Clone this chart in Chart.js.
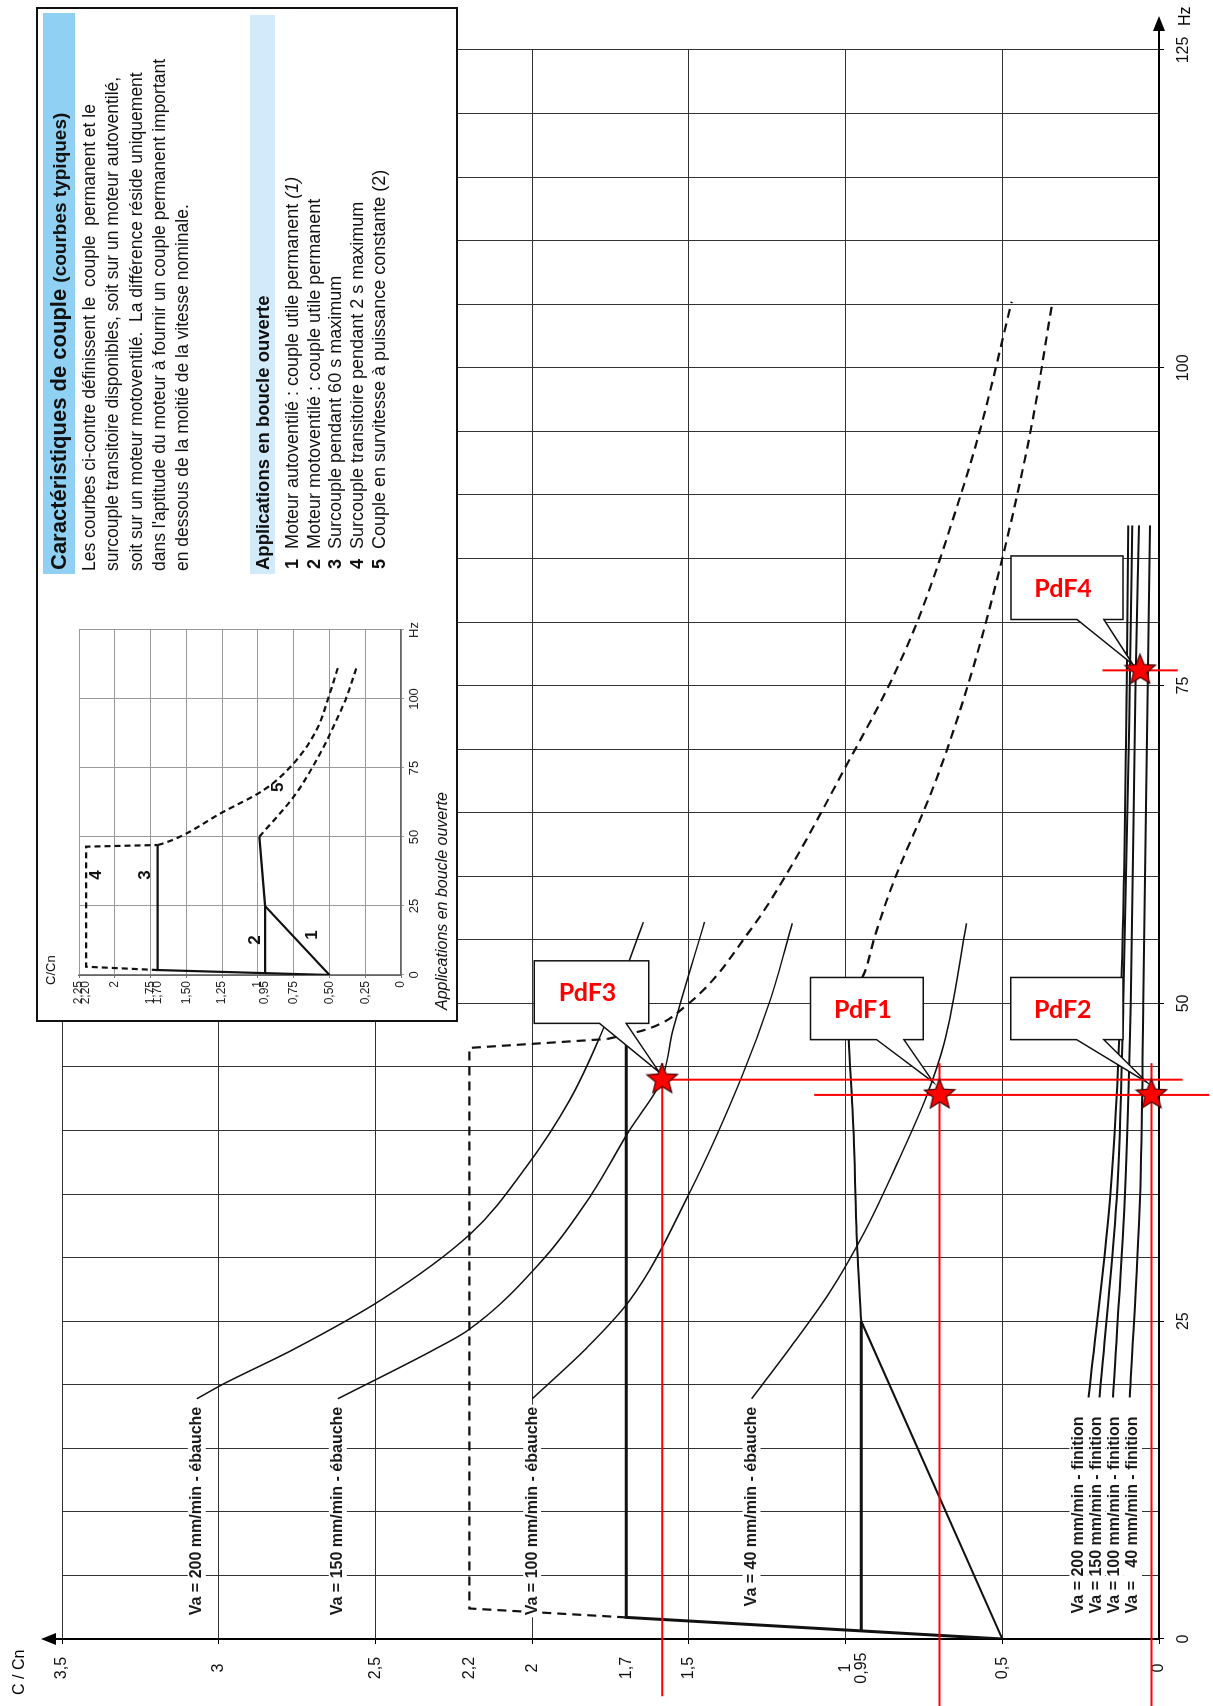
<!DOCTYPE html>
<html lang="fr">
<head>
<meta charset="utf-8">
<title>Caractéristiques de couple</title>
<script src="https://cdn.jsdelivr.net/npm/chart.js@4.4.1/dist/chart.umd.min.js"></script>
<style>
html, body { margin: 0; padding: 0; background: #fff; }
body { width: 1213px; height: 1706px; overflow: hidden; position: relative;
       font-family: "Liberation Sans", Arial, sans-serif; color: #111; }
/* the whole figure is laid out landscape, then turned a quarter left */
#stage { position: absolute; left: 0; top: 0; width: 1706px; height: 1213px;
         transform-origin: 0 0; transform: translateY(1706px) rotate(-90deg); }
#main { position: absolute; left: 0; top: 0; }
#box { position: absolute; left: 684px; top: 36px; width: 1015px; height: 422px;
       box-sizing: border-box; border: 2px solid #111; background: #fff; }
.bar { position: absolute; left: 446px; white-space: pre; font-weight: bold; box-sizing: border-box; padding-left: 4px; }
#title { top: 5px; width: 561px; height: 32px; line-height: 32px; background: #8fd0f3; font-size: 22px; }
#title span { font-size: 19px; }
#intro { position: absolute; left: 449px; top: 40px; font-size: 17.5px; line-height: 23.3px; white-space: pre; }
#sub { top: 212px; width: 559px; height: 25px; line-height: 25px; background: #d2eaf9; font-size: 18.5px; }
#list { position: absolute; left: 451px; top: 244px; font-size: 18px; line-height: 21.7px; white-space: pre; }
#list b { display: inline-block; width: 20px; }
#inset { position: absolute; left: 4px; top: 2px; }
#caption { position: absolute; left: 10px; top: 395px; font-size: 16px; font-style: italic; white-space: nowrap; }
</style>
</head>
<body>
<div id="stage">
  <canvas id="main" width="1706" height="1213"></canvas>
  <div id="box">
    <div id="title" class="bar">Caractéristiques de couple <span>(courbes typiques)</span></div>
    <div id="intro">Les courbes ci-contre définissent le  couple  permanent et le
surcouple transitoire disponibles, soit sur un moteur autoventilé,
soit sur un moteur motoventilé.  La différence réside uniquement
dans l'aptitude du moteur à fournir un couple permanent important
en dessous de la moitié de la vitesse nominale.</div>
    <div id="sub" class="bar">Applications en boucle ouverte</div>
    <div id="list"><b>1</b>Moteur autoventilé : couple utile permanent <i>(1)</i>
<b>2</b>Moteur motoventilé : couple utile permanent
<b>3</b>Surcouple pendant 60 s maximum
<b>4</b>Surcouple transitoire pendant 2 s maximum
<b>5</b>Couple en survitesse à puissance constante (2)</div>
    <canvas id="inset" width="420" height="392"></canvas>
    <div id="caption">Applications en boucle ouverte</div>
  </div>
</div>
<script>
Chart.defaults.font.family = '"Liberation Sans", Arial, sans-serif';
Chart.defaults.color = '#111';

// ---- main graph: frequency (Hz) against C/Cn ----
const hzTicks = [0, 25, 50, 75, 100, 125];
const cTicks = [0, 0.5, 0.95, 1, 1.5, 1.7, 2, 2.2, 2.5, 3, 3.5];

// typical curves 1 to 5
const hzCurve3 = [0, 1.7, 47.5];
const cCurve3 = [0.5, 1.7, 1.7];
const hzCurve2 = [0.64, 25];
const cCurve2 = [0.95, 0.95];
const hzCurve1a = [0, 25];
const cCurve1a = [0.5, 0.95];
const hzCurve1b = [25, 32, 40, 47.2, 50];
const cCurve1b = [0.95, 0.965, 0.975, 0.99, 0.995];
const hzCurve4 = [1.7, 2.4, 46.5, 47.2];
const cCurve4 = [1.7, 2.2, 2.2, 1.76];
const hzCurve5a = [47.2, 48, 49.8, 55.9, 60.1, 68.6, 75.1, 80.1, 90.2, 95.2, 105.2];
const cCurve5a = [1.76, 1.63, 1.51, 1.3, 1.19, 1.0, 0.86, 0.77, 0.63, 0.57, 0.47];
const hzCurve5b = [50, 52.4, 55, 58, 60, 67, 75, 85, 95, 105.2];
const cCurve5b = [0.995, 0.94, 0.91, 0.87, 0.84, 0.72, 0.61, 0.5, 0.41, 0.34];

// roughing (ébauche) feeds
const hzVa200e = [18.9, 20, 22.8, 26.7, 31.8, 37.1, 42.4, 47.6, 56.4];
const cVa200e = [3.07, 2.99, 2.76, 2.48, 2.2, 2.02, 1.88, 1.78, 1.645];
const hzVa150e = [18.9, 22.8, 24.2, 30, 35, 40, 43.8, 48, 56.4];
const cVa150e = [2.62, 2.31, 2.21, 1.96, 1.81, 1.69, 1.59, 1.55, 1.45];
const hzVa100e = [18.9, 22.8, 26.6, 35, 44.3, 50.3, 56.3];
const cVa100e = [2.0, 1.83, 1.69, 1.5, 1.33, 1.24, 1.17];
const hzVa40e = [18.9, 22.8, 27.3, 32, 37.7, 42.8, 46.9, 56.3];
const cVa40e = [1.3, 1.18, 1.05, 0.94, 0.83, 0.74, 0.685, 0.614];
const ebaucheLabels = ['Va = 200 mm/min - ébauche', 'Va = 150 mm/min - ébauche',
                       'Va = 100 mm/min - ébauche', 'Va = 40 mm/min - ébauche'];

// finishing (finition) feeds
const hzFinition = [19, 34.6, 50, 75, 87.6];
const cVa200f = [0.225, 0.156, 0.122, 0.103, 0.098];
const cVa150f = [0.19, 0.135, 0.114, 0.093, 0.085];
const cVa100f = [0.147, 0.109, 0.09, 0.075, 0.064];
const cVa40f = [0.093, 0.061, 0.05, 0.036, 0.029];
const finitionLabels = ['Va = 200 mm/min - finition', 'Va = 150 mm/min - finition',
                        'Va = 100 mm/min - finition', 'Va =   40 mm/min - finition'];
const finitionLabelHz = 17.5;
const finitionLabelC = [0.257, 0.2, 0.141, 0.083];

// operating points and their red construction lines
const pdfNames = ['PdF1', 'PdF2', 'PdF3', 'PdF4'];
const pdfHz = [42.8, 42.8, 44, 76.2];
const pdfC = [0.7, 0.024, 1.585, 0.06];
const redHz = [[45.3, -4.5], [45.3, -5.3], [45.3, -5.3], [44, 44], [42.8, 42.8], [76.2, 76.2]];
const redC = [[1.585, 1.585], [0.7, 0.7], [0.024, 0.024], [1.585, -0.075], [1.1, -0.16], [0.18, -0.06]];

// callout boxes, in graph units (box Hz range, box C range, pointer base C, pointer tip)
const callouts = [
  { name: 'PdF1', hz: [47.15, 52.04], c: [0.752, 1.112], base: [0.814, 0.901], tip: [43.8, 0.72] },
  { name: 'PdF2', hz: [47.15, 52.04], c: [0.115, 0.473], base: [0.176, 0.263], tip: [43.8, 0.039] },
  { name: 'PdF3', hz: [48.43, 53.35], c: [1.628, 1.993], base: [1.70, 1.785], tip: [44.6, 1.595] },
  { name: 'PdF4', hz: [80.2, 85.2], c: [0.115, 0.472], base: [0.176, 0.262], tip: [76.65, 0.083] }
];

// ---- small inset graph ----
const insetTicks = [0, 0.25, 0.5, 0.75, 0.95, 1, 1.25, 1.5, 1.7, 1.75, 2, 2.2, 2.25];
const insetTickLabels = ['0', '0,25', '0,50', '0,75', '0,95', '1', '1,25', '1,50', '1,70', '1,75', '2', '2,20', '2,25'];
const inHz3 = [0, 1.8, 47.1];
const inC3 = [0.5, 1.7, 1.7];
const inHz4 = [1.8, 3, 46.5, 47.1];
const inC4 = [1.7, 2.2, 2.2, 1.7];
const inHz5a = [47.1, 47.7, 50.1, 58.6, 67, 76.7, 88.8, 100, 111.5];
const inC5a = [1.7, 1.66, 1.545, 1.26, 0.96, 0.75, 0.59, 0.51, 0.44];
const inHz2 = [0.7, 25];
const inC2 = [0.95, 0.95];
const inHz1 = [0, 25, 50];
const inC1 = [0.5, 0.95, 0.99];
const inHz5b = [50.1, 64.6, 77.9, 92.4, 100.8, 111.5];
const inC5b = [0.99, 0.75, 0.59, 0.45, 0.38, 0.31];
const inNames = ['1', '2', '3', '4', '5'];
const inNameHz = [14.5, 12.7, 36.2, 36.2, 68];
const inNameC = [0.62, 1.02, 1.79, 2.13, 0.86];

const xy = (hz, c) => hz.map((h, i) => ({ x: h, y: c[i] }));
const comma = v => String(v).replace('.', ',');

function curve(hz, c, width, dash, smooth) {
  return {
    data: xy(hz, c), showLine: true, borderColor: '#111', borderWidth: width,
    borderDash: dash || [], pointRadius: 0, tension: 0, order: 3,
    cubicInterpolationMode: smooth ? 'monotone' : 'default'
  };
}

function starImage() {
  const cv = document.createElement('canvas');
  cv.width = 34; cv.height = 34;
  const g = cv.getContext('2d');
  g.beginPath();
  for (let i = 0; i < 10; i++) {
    const r = i % 2 ? 7 : 16;
    const a = -Math.PI / 2 + i * Math.PI / 5 + 0.3;
    const px = 17 + r * Math.cos(a), py = 17 + r * Math.sin(a);
    if (i) g.lineTo(px, py); else g.moveTo(px, py);
  }
  g.closePath();
  g.fillStyle = '#ff0000';
  g.fill();
  g.strokeStyle = '#3a0000';
  g.lineWidth = 1.2;
  g.stroke();
  return cv;
}

const redPts = [];
redHz.forEach((hz, i) => {
  if (i) redPts.push({ x: null, y: null });
  redPts.push(...xy(hz, redC[i]));
});

function textWithBg(ctx, txt, x, y, align) {
  const w = ctx.measureText(txt).width;
  const left = align === 'right' ? x - w : x;
  ctx.fillStyle = '#fff';
  ctx.fillRect(left - 2, y - 9, w + 4, 18);
  ctx.fillStyle = '#1a1a1a';
  ctx.textAlign = align;
  ctx.fillText(txt, x, y);
}

function drawCallouts(chart) {
  const { ctx, scales: { x, y } } = chart;
  const P = (h, c) => [x.getPixelForValue(h), y.getPixelForValue(c)];
  ctx.save();
  callouts.forEach(c => {
    const pts = [P(c.hz[1], c.c[1]), P(c.hz[1], c.c[0]), P(c.hz[0], c.c[0]), P(c.hz[0], c.base[0]),
                 P(c.tip[0], c.tip[1]), P(c.hz[0], c.base[1]), P(c.hz[0], c.c[1])];
    ctx.beginPath();
    pts.forEach((p, i) => i ? ctx.lineTo(p[0], p[1]) : ctx.moveTo(p[0], p[1]));
    ctx.closePath();
    ctx.fillStyle = '#fff';
    ctx.fill();
    ctx.strokeStyle = '#111';
    ctx.lineWidth = 1.5;
    ctx.stroke();
    // the callout text stays upright on the final (portrait) page
    const mid = P((c.hz[0] + c.hz[1]) / 2, (c.c[0] + c.c[1]) / 2);
    ctx.save();
    ctx.translate(mid[0], mid[1]);
    ctx.rotate(Math.PI / 2);
    ctx.fillStyle = '#ff0000';
    ctx.font = 'bold 25px Lato, "Open Sans", sans-serif';
    ctx.textAlign = 'center';
    ctx.textBaseline = 'middle';
    ctx.fillText(c.name, -4, 1);
    ctx.restore();
  });
  ctx.restore();
}

const mainDecor = {
  id: 'mainDecor',
  beforeDatasetDraw(chart, args) {
    if (chart.data.datasets[args.index].label === 'red') drawCallouts(chart);
  },
  afterDatasetsDraw(chart) {
    const { ctx, scales: { x, y } } = chart;
    ctx.save();
    ctx.font = 'bold 16px "Liberation Sans", Arial, sans-serif';
    ctx.textBaseline = 'middle';
    [[hzVa200e, cVa200e], [hzVa150e, cVa150e], [hzVa100e, cVa100e], [hzVa40e, cVa40e]].forEach((s, i) => {
      textWithBg(ctx, ebaucheLabels[i], x.getPixelForValue(s[0][0]) - 8, y.getPixelForValue(s[1][0]), 'right');
    });
    finitionLabels.forEach((t, i) => {
      textWithBg(ctx, t, x.getPixelForValue(finitionLabelHz), y.getPixelForValue(finitionLabelC[i]), 'right');
    });
    ctx.restore();
  },
  afterDraw(chart) {
    const { ctx, chartArea: a } = chart;
    ctx.save();
    ctx.strokeStyle = '#000';
    ctx.fillStyle = '#000';
    ctx.lineWidth = 2;
    // axis arrows
    ctx.beginPath();
    ctx.moveTo(a.right, a.bottom); ctx.lineTo(1680, a.bottom);
    ctx.moveTo(a.left, a.top); ctx.lineTo(a.left, 50);
    ctx.stroke();
    ctx.beginPath();
    ctx.moveTo(1690, a.bottom); ctx.lineTo(1675, a.bottom - 6); ctx.lineTo(1675, a.bottom + 6);
    ctx.closePath(); ctx.fill();
    ctx.beginPath();
    ctx.moveTo(a.left, 41); ctx.lineTo(a.left - 6, 56); ctx.lineTo(a.left + 6, 56);
    ctx.closePath(); ctx.fill();
    ctx.font = '16px "Liberation Sans", Arial, sans-serif';
    ctx.textBaseline = 'middle';
    ctx.textAlign = 'left';
    ctx.fillText('C / Cn', 11, 20);
    ctx.fillText('Hz', 1680, 1186);
    ctx.restore();
  }
};

const isHalf = v => Math.abs(v * 2 - Math.round(v * 2)) < 1e-6;
const isQuarter = v => Math.abs(v * 4 - Math.round(v * 4)) < 1e-6;

new Chart(document.getElementById('main'), {
  type: 'scatter',
  data: {
    datasets: [
      { label: 'stars', data: xy(pdfHz, pdfC), pointStyle: starImage(), pointRadius: 15, order: 1, clip: false },
      { label: 'red', data: redPts, showLine: true, borderColor: '#ff0000', borderWidth: 2,
        pointRadius: 0, spanGaps: false, order: 2, clip: false },
      curve(hzCurve3, cCurve3, 3),
      curve(hzCurve2, cCurve2, 3),
      curve(hzCurve1a, cCurve1a, 2),
      curve(hzCurve1b, cCurve1b, 2, null, true),
      curve(hzCurve4, cCurve4, 2.2, [9, 6]),
      curve(hzCurve5a, cCurve5a, 2.2, [9, 6], true),
      curve(hzCurve5b, cCurve5b, 2.2, [9, 6], true),
      curve(hzVa200e, cVa200e, 1.5, null, true),
      curve(hzVa150e, cVa150e, 1.5, null, true),
      curve(hzVa100e, cVa100e, 1.5, null, true),
      curve(hzVa40e, cVa40e, 1.5, null, true),
      curve(hzFinition, cVa200f, 2, null, true),
      curve(hzFinition, cVa150f, 2, null, true),
      curve(hzFinition, cVa100f, 2, null, true),
      curve(hzFinition, cVa40f, 2, null, true)
    ]
  },
  options: {
    responsive: false,
    animation: false,
    devicePixelRatio: 1,
    layout: { padding: { top: 62, right: 50, left: 0, bottom: 0 } },
    plugins: { legend: { display: false }, tooltip: { enabled: false } },
    scales: {
      x: {
        type: 'linear', min: 0, max: 125,
        afterFit: s => { s.height = 54; },
        ticks: {
          stepSize: 5, autoSkip: false, maxRotation: 0, padding: 10,
          font: { size: 16 }, color: '#111',
          callback: v => hzTicks.includes(v) ? String(v) : ''
        },
        grid: {
          color: '#333', lineWidth: 1, tickLength: 5,
          tickColor: c => hzTicks.includes(c.tick.value) ? '#000' : 'rgba(0,0,0,0)'
        },
        border: { color: '#000', width: 2 }
      },
      y: {
        type: 'linear', min: 0, max: 3.5,
        afterFit: s => { s.width = 67; },
        afterBuildTicks: s => { s.ticks = cTicks.map(v => ({ value: v })); },
        ticks: { autoSkip: false, crossAlign: 'center', padding: 8.5, font: { size: 16 }, color: '#111', callback: v => comma(v) },
        grid: {
          color: c => isHalf(c.tick.value) ? '#333' : 'rgba(0,0,0,0)', lineWidth: 1, tickLength: 5,
          tickColor: c => isHalf(c.tick.value) ? '#000' : 'rgba(0,0,0,0)'
        },
        border: { color: '#000', width: 2 }
      }
    }
  },
  plugins: [mainDecor]
});

const insetDecor = {
  id: 'insetDecor',
  afterDatasetsDraw(chart) {
    const { ctx, scales: { x, y } } = chart;
    ctx.save();
    ctx.font = 'bold 17px "Liberation Sans", Arial, sans-serif';
    ctx.textAlign = 'center';
    ctx.textBaseline = 'middle';
    ctx.fillStyle = '#111';
    inNames.forEach((t, i) => ctx.fillText(t, x.getPixelForValue(inNameHz[i]), y.getPixelForValue(inNameC[i])));
    ctx.font = '13px "Liberation Sans", Arial, sans-serif';
    ctx.textAlign = 'left';
    ctx.fillText('C/Cn', 31, 11);
    ctx.restore();
  }
};

new Chart(document.getElementById('inset'), {
  type: 'scatter',
  data: {
    datasets: [
      curve(inHz3, inC3, 2.2),
      curve(inHz2, inC2, 2.2),
      curve(inHz1, inC1, 2.2),
      curve(inHz4, inC4, 2.2, [6, 4]),
      curve(inHz5a, inC5a, 2.2, [6, 4], true),
      curve(inHz5b, inC5b, 2.2, [6, 4], true)
    ]
  },
  options: {
    responsive: false,
    animation: false,
    devicePixelRatio: 1,
    layout: { padding: { top: 39, right: 34, left: 0, bottom: 0 } },
    plugins: { legend: { display: false }, tooltip: { enabled: false } },
    scales: {
      x: {
        type: 'linear', min: 0, max: 125,
        afterFit: s => { s.height = 31; },
        ticks: { stepSize: 25, maxRotation: 0, padding: 3, font: { size: 13 }, color: '#222',
                 callback: v => v === 125 ? 'Hz' : String(v) },
        grid: { color: '#9a9a9a', tickLength: 3 },
        border: { color: '#666', width: 1.5 }
      },
      y: {
        type: 'linear', min: 0, max: 2.25,
        afterFit: s => { s.width = 41; },
        afterBuildTicks: s => { s.ticks = insetTicks.map(v => ({ value: v })); },
        ticks: { autoSkip: false, padding: 3, font: { size: 12 }, color: '#222',
                 callback: v => insetTickLabels[insetTicks.indexOf(v)] },
        grid: {
          color: c => isQuarter(c.tick.value) ? '#9a9a9a' : 'rgba(0,0,0,0)', tickLength: 3,
          tickColor: c => isQuarter(c.tick.value) ? '#777' : 'rgba(0,0,0,0)'
        },
        border: { color: '#666', width: 1.5 }
      }
    }
  },
  plugins: [insetDecor]
});
</script>
</body>
</html>
